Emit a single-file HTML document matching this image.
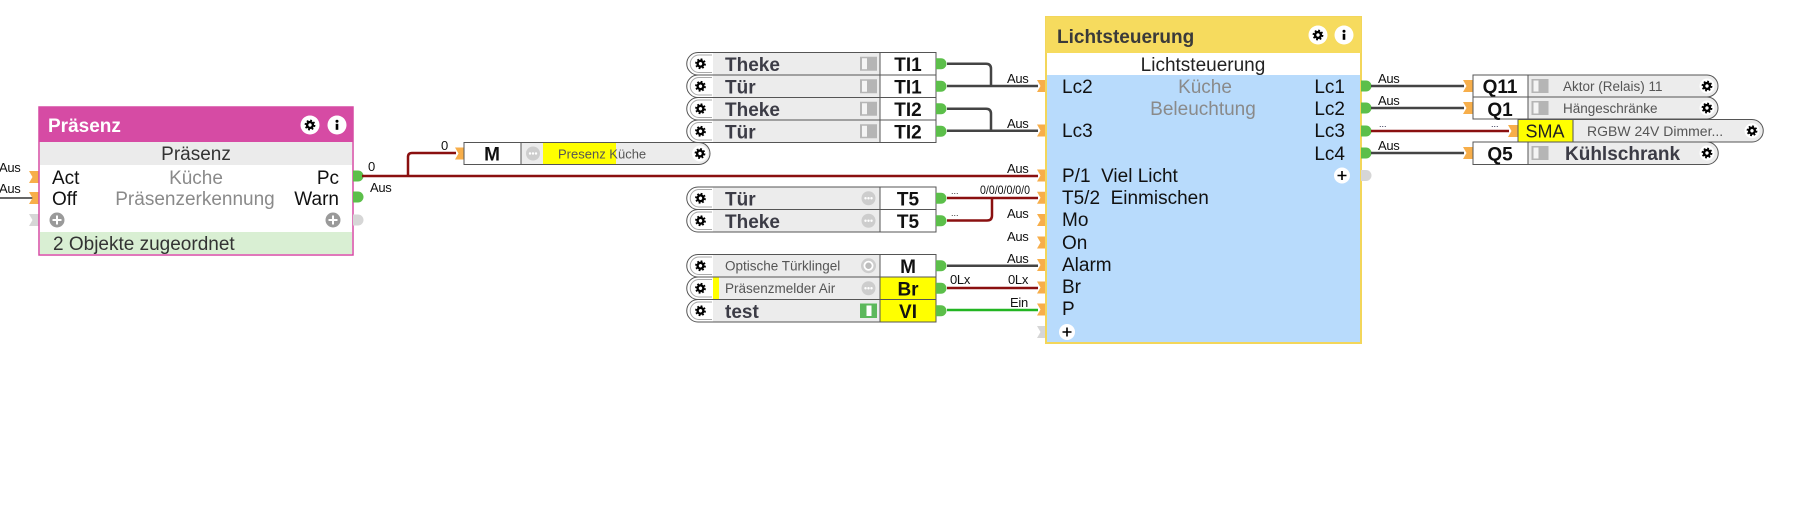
<!DOCTYPE html>
<html><head><meta charset="utf-8">
<style>
html,body{margin:0;padding:0;background:#fff;}
svg{display:block;font-family:"Liberation Sans",Arial,sans-serif;}
.b{font-weight:bold;font-size:19px;fill:#3c3c46;}
.bc{font-weight:bold;font-size:19px;fill:#111;text-anchor:middle;}
.r{font-size:19px;fill:#111;}
.g{font-size:19px;fill:#8a8a8a;text-anchor:middle;}
.s{font-size:13px;fill:#111;letter-spacing:-0.3px;}
.sm{font-size:13.5px;fill:#555;}
.w{fill:none;stroke-width:2.5;}
</style></head><body>
<svg width="1806" height="519" viewBox="0 0 1806 519" xmlns="http://www.w3.org/2000/svg">
<defs>
<g id="gear"><circle r="2.9" fill="none" stroke="#000" stroke-width="2.4"/><circle r="4.3" fill="none" stroke="#000" stroke-width="2.2" stroke-dasharray="1.7 1.68"/></g>
<g id="info"><circle r="9.5" fill="#fff"/><circle cx="0" cy="-3.8" r="1.5" fill="#000"/><rect x="-1.3" y="-1.2" width="2.6" height="6" fill="#000"/></g>
<path id="pin" d="M0 -6H10V6H0L3.5 0Z"/>
<path id="pout" d="M0 -5.5H5A5.5 5.5 0 0 1 5 5.5H0Z"/>
<g id="dots"><circle r="7" fill="#cdcdcd"/><circle cx="-3" r="1.2" fill="#fff"/><circle r="1.2" fill="#fff"/><circle cx="3" r="1.2" fill="#fff"/></g>
<g id="tog"><rect x="-8.5" y="-7" width="17" height="14" fill="#b5b5b5"/><rect x="-6.5" y="-5.5" width="5" height="11" fill="#f4f4f4"/></g>
</defs>

<!-- ============ Präsenz block ============ -->
<text x="-1" y="172" class="s">Aus</text>
<text x="-1" y="193" class="s">Aus</text>
<path d="M0 198H33" stroke="#333" stroke-width="1.5"/>
<use href="#pin" x="29" y="177" fill="#f7ae4a"/>
<use href="#pin" x="29" y="198" fill="#f7ae4a"/>
<use href="#pin" x="29" y="220" fill="#d6d6d6"/>
<rect x="39" y="107" width="314" height="148" fill="#fff" stroke="#d64ba4" stroke-width="1.5"/>
<rect x="39" y="107" width="314" height="35" fill="#d64ba4"/>
<text x="48" y="132" font-size="19" font-weight="bold" fill="#fff">Präsenz</text>
<circle cx="310" cy="125" r="9.5" fill="#fff"/><use href="#gear" x="310" y="125"/>
<use href="#info" x="337" y="125"/>
<rect x="40" y="142" width="312" height="23" fill="#ebebeb"/>
<text x="196" y="160" font-size="19" fill="#333" text-anchor="middle">Präsenz</text>
<text x="52" y="184" class="r">Act</text>
<text x="196" y="184" class="g">Küche</text>
<text x="339" y="184" class="r" text-anchor="end">Pc</text>
<text x="52" y="205" class="r">Off</text>
<text x="195" y="205" class="g">Präsenzerkennung</text>
<text x="339" y="205" class="r" text-anchor="end">Warn</text>
<circle cx="57" cy="220" r="7.5" fill="#9a9a9a"/><path d="M52.5 220H61.5M57 215.5V224.5" stroke="#fff" stroke-width="2"/>
<circle cx="333" cy="220" r="7.5" fill="#9a9a9a"/><path d="M328.5 220H337.5M333 215.5V224.5" stroke="#fff" stroke-width="2"/>
<rect x="40" y="232" width="312" height="22" fill="#d9efd3"/>
<text x="53" y="250" font-size="19" fill="#333">2 Objekte zugeordnet</text>
<use href="#pout" x="353" y="176" fill="#5cbf4a"/>
<use href="#pout" x="353" y="197" fill="#5cbf4a"/>
<use href="#pout" x="353" y="220" fill="#d6d6d6"/>
<text x="368" y="171" class="s">0</text>
<text x="370" y="192" class="s">Aus</text>

<!-- red wire from Pc -->
<path class="w" stroke="#8a1010" d="M362 176H1038"/>
<path class="w" stroke="#8a1010" d="M408 176V157Q408 153 412 153H456"/>
<text x="441" y="150" class="s">0</text>

<!-- ============ M box ============ -->
<use href="#pin" x="455" y="153.5" fill="#f7ae4a"/>
<path d="M464 142.5H699A11 11 0 0 1 699 164.5H464Z" fill="#ececec" stroke="#555"/>
<rect x="464" y="142.5" width="57" height="22" fill="#fff" stroke="#555"/>
<text x="492" y="160.5" class="bc" fill="#333">M</text>
<use href="#dots" x="533" y="153.5"/>
<rect x="543" y="143" width="73" height="21" fill="#ffff00"/>
<text x="558" y="158.5" font-size="13" fill="#555">Presenz Küche</text>
<circle cx="700" cy="153.5" r="8" fill="#fff"/><use href="#gear" x="700" y="153.5"/>

<!-- ============ left blocks TI ============ -->
<g>
<path d="M880 52.5H698A11.25 11.25 0 0 0 698 75H880Z" fill="#fff"/>
<rect x="713" y="52.5" width="167" height="22.5" fill="#ececec"/>
<rect x="880" y="52.5" width="56" height="22.5" fill="#fff"/>
<path d="M936 52.5H698A11.25 11.25 0 0 0 698 75H936Z M880 52.5V75" fill="none" stroke="#555"/>
<path d="M712 55H699A8.75 8.75 0 0 0 699 72.5H712" fill="none" stroke="#aaa"/>
<use href="#gear" x="700.5" y="63.75"/>
<text x="725" y="71" class="b">Theke</text>
<use href="#tog" x="868.5" y="63.75"/>
<text x="908" y="71" class="bc">TI1</text>
<use href="#pout" x="936" y="63.75" fill="#5cbf4a"/>
</g>
<g>
<path d="M880 75H698A11.25 11.25 0 0 0 698 97.5H880Z" fill="#fff"/>
<rect x="713" y="75" width="167" height="22.5" fill="#ececec"/>
<rect x="880" y="75" width="56" height="22.5" fill="#fff"/>
<path d="M936 75H698A11.25 11.25 0 0 0 698 97.5H936Z M880 75V97.5" fill="none" stroke="#555"/>
<path d="M712 77.5H699A8.75 8.75 0 0 0 699 95H712" fill="none" stroke="#aaa"/>
<use href="#gear" x="700.5" y="86.25"/>
<text x="725" y="93.5" class="b">Tür</text>
<use href="#tog" x="868.5" y="86.25"/>
<text x="908" y="93.5" class="bc">TI1</text>
<use href="#pout" x="936" y="86.25" fill="#5cbf4a"/>
</g>
<g>
<path d="M880 97.5H698A11.25 11.25 0 0 0 698 120H880Z" fill="#fff"/>
<rect x="713" y="97.5" width="167" height="22.5" fill="#ececec"/>
<rect x="880" y="97.5" width="56" height="22.5" fill="#fff"/>
<path d="M936 97.5H698A11.25 11.25 0 0 0 698 120H936Z M880 97.5V120" fill="none" stroke="#555"/>
<path d="M712 100H699A8.75 8.75 0 0 0 699 117.5H712" fill="none" stroke="#aaa"/>
<use href="#gear" x="700.5" y="108.75"/>
<text x="725" y="116" class="b">Theke</text>
<use href="#tog" x="868.5" y="108.75"/>
<text x="908" y="116" class="bc">TI2</text>
<use href="#pout" x="936" y="108.75" fill="#5cbf4a"/>
</g>
<g>
<path d="M880 120H698A11.25 11.25 0 0 0 698 142.5H880Z" fill="#fff"/>
<rect x="713" y="120" width="167" height="22.5" fill="#ececec"/>
<rect x="880" y="120" width="56" height="22.5" fill="#fff"/>
<path d="M936 120H698A11.25 11.25 0 0 0 698 142.5H936Z M880 120V142.5" fill="none" stroke="#555"/>
<path d="M712 122.5H699A8.75 8.75 0 0 0 699 140H712" fill="none" stroke="#aaa"/>
<use href="#gear" x="700.5" y="131.25"/>
<text x="725" y="138.5" class="b">Tür</text>
<use href="#tog" x="868.5" y="131.25"/>
<text x="908" y="138.5" class="bc">TI2</text>
<use href="#pout" x="936" y="131.25" fill="#5cbf4a"/>
</g>

<!-- TI wires -->
<path class="w" stroke="#444" d="M947 63.75H986Q991 63.75 991 68.75V86"/>
<path class="w" stroke="#444" d="M947 86H1038"/>
<path class="w" stroke="#444" d="M947 108.75H986Q991 108.75 991 113.75V130.75"/>
<path class="w" stroke="#444" d="M947 130.75H1038"/>

<!-- ============ T5 blocks ============ -->
<g>
<path d="M880 187H698A11.25 11.25 0 0 0 698 209.5H880Z" fill="#fff"/>
<rect x="713" y="187" width="167" height="22.5" fill="#ececec"/>
<rect x="880" y="187" width="56" height="22.5" fill="#fff"/>
<path d="M936 187H698A11.25 11.25 0 0 0 698 209.5H936Z M880 187V209.5" fill="none" stroke="#555"/>
<path d="M712 189.5H699A8.75 8.75 0 0 0 699 207H712" fill="none" stroke="#aaa"/>
<use href="#gear" x="700.5" y="198.25"/>
<text x="725" y="205.5" class="b">Tür</text>
<use href="#dots" x="868.5" y="198.25"/>
<text x="908" y="205.5" class="bc">T5</text>
<use href="#pout" x="936" y="198.25" fill="#5cbf4a"/>
</g>
<g>
<path d="M880 209.5H698A11.25 11.25 0 0 0 698 232H880Z" fill="#fff"/>
<rect x="713" y="209.5" width="167" height="22.5" fill="#ececec"/>
<rect x="880" y="209.5" width="56" height="22.5" fill="#fff"/>
<path d="M936 209.5H698A11.25 11.25 0 0 0 698 232H936Z M880 209.5V232" fill="none" stroke="#555"/>
<path d="M712 212H699A8.75 8.75 0 0 0 699 229.5H712" fill="none" stroke="#aaa"/>
<use href="#gear" x="700.5" y="220.75"/>
<text x="725" y="228" class="b">Theke</text>
<use href="#dots" x="868.5" y="220.75"/>
<text x="908" y="228" class="bc">T5</text>
<use href="#pout" x="936" y="220.75" fill="#5cbf4a"/>
</g>
<path class="w" stroke="#8a1010" d="M947 198H1038"/>
<path class="w" stroke="#8a1010" d="M947 220.5H987Q992 220.5 992 215.5V198"/>
<text x="951" y="194" font-size="9" fill="#333">...</text>
<text x="951" y="216" font-size="9" fill="#333">...</text>

<!-- ============ lower blocks ============ -->
<g>
<path d="M880 254.5H698A11.25 11.25 0 0 0 698 277H880Z" fill="#fff"/>
<rect x="713" y="254.5" width="167" height="22.5" fill="#ececec"/>
<rect x="880" y="254.5" width="56" height="22.5" fill="#fff"/>
<path d="M936 254.5H698A11.25 11.25 0 0 0 698 277H936Z M880 254.5V277" fill="none" stroke="#555"/>
<path d="M712 257H699A8.75 8.75 0 0 0 699 274.5H712" fill="none" stroke="#aaa"/>
<use href="#gear" x="700.5" y="265.75"/>
<text x="725" y="270.5" class="sm">Optische Türklingel</text>
<circle cx="868.5" cy="265.75" r="7.5" fill="#cdcdcd"/><circle cx="868.5" cy="265.75" r="5" fill="#fff"/><circle cx="868.5" cy="265.75" r="3.2" fill="#bdbdbd"/>
<text x="908" y="273" class="bc">M</text>
<use href="#pout" x="936" y="265.75" fill="#5cbf4a"/>
</g>
<g>
<path d="M880 277H698A11.25 11.25 0 0 0 698 299.5H880Z" fill="#fff"/>
<rect x="713" y="277" width="167" height="22.5" fill="#ececec"/>
<rect x="713" y="277" width="6" height="22.5" fill="#ffff00"/>
<rect x="880" y="277" width="56" height="22.5" fill="#ffff00"/>
<path d="M936 277H698A11.25 11.25 0 0 0 698 299.5H936Z M880 277V299.5" fill="none" stroke="#555"/>
<path d="M712 279.5H699A8.75 8.75 0 0 0 699 297H712" fill="none" stroke="#aaa"/>
<use href="#gear" x="700.5" y="288.25"/>
<text x="725" y="293" class="sm">Präsenzmelder Air</text>
<use href="#dots" x="868.5" y="288.25"/>
<text x="908" y="295.5" class="bc">Br</text>
<use href="#pout" x="936" y="288.25" fill="#5cbf4a"/>
</g>
<g>
<path d="M880 299.5H698A11.25 11.25 0 0 0 698 322H880Z" fill="#fff"/>
<rect x="713" y="299.5" width="167" height="22.5" fill="#ececec"/>
<rect x="880" y="299.5" width="56" height="22.5" fill="#ffff00"/>
<path d="M936 299.5H698A11.25 11.25 0 0 0 698 322H936Z M880 299.5V322" fill="none" stroke="#555"/>
<path d="M712 302H699A8.75 8.75 0 0 0 699 319.5H712" fill="none" stroke="#aaa"/>
<use href="#gear" x="700.5" y="310.75"/>
<text x="725" y="318" class="b">test</text>
<rect x="860" y="303.5" width="17" height="14.5" fill="#5cb85c"/><rect x="866.5" y="305.5" width="5" height="10.5" fill="#fff"/>
<text x="908" y="318" class="bc">VI</text>
<use href="#pout" x="936" y="310.75" fill="#5cbf4a"/>
</g>
<path class="w" stroke="#444" d="M947 265.75H1038"/>
<path class="w" stroke="#8a1010" d="M947 288H1038"/>
<path class="w" stroke="#22b522" d="M947 310H1038"/>

<!-- input labels near Lichtsteuerung -->
<text x="1007" y="83" class="s">Aus</text>
<text x="1007" y="128" class="s">Aus</text>
<text x="1007" y="173" class="s">Aus</text>
<text x="980" y="194" font-size="12" fill="#111" textLength="50" lengthAdjust="spacingAndGlyphs">0/0/0/0/0/0</text>
<text x="1007" y="218" class="s">Aus</text>
<text x="1007" y="241" class="s">Aus</text>
<text x="1007" y="263" class="s">Aus</text>
<text x="950" y="284" class="s">0Lx</text>
<text x="1008" y="284" class="s">0Lx</text>
<text x="1010" y="307" class="s">Ein</text>

<!-- ============ Lichtsteuerung ============ -->
<use href="#pin" x="1037" y="86" fill="#f7ae4a"/>
<use href="#pin" x="1037" y="130.5" fill="#f7ae4a"/>
<use href="#pin" x="1037" y="175.5" fill="#f7ae4a"/>
<use href="#pin" x="1037" y="197.75" fill="#f7ae4a"/>
<use href="#pin" x="1037" y="220" fill="#f7ae4a"/>
<use href="#pin" x="1037" y="242.5" fill="#f7ae4a"/>
<use href="#pin" x="1037" y="265" fill="#f7ae4a"/>
<use href="#pin" x="1037" y="287.5" fill="#f7ae4a"/>
<use href="#pin" x="1037" y="309.5" fill="#f7ae4a"/>
<use href="#pin" x="1037" y="332" fill="#d6d6d6"/>
<rect x="1046" y="17" width="315" height="326" fill="#b8dbfc" stroke="#f3d65a" stroke-width="2"/>
<rect x="1046" y="17" width="315" height="36" fill="#f6db5e"/>
<rect x="1047" y="53" width="313" height="22" fill="#fff"/>
<text x="1057" y="43" font-size="19" font-weight="bold" fill="#3a3a3a">Lichtsteuerung</text>
<circle cx="1318" cy="35" r="9.5" fill="#fff"/><use href="#gear" x="1318" y="35"/>
<use href="#info" x="1344" y="35"/>
<text x="1203" y="71" font-size="19" fill="#222" text-anchor="middle">Lichtsteuerung</text>
<text x="1062" y="93" class="r">Lc2</text>
<text x="1205" y="93" class="g">Küche</text>
<text x="1345" y="93" class="r" text-anchor="end">Lc1</text>
<text x="1203" y="115" class="g">Beleuchtung</text>
<text x="1345" y="115" class="r" text-anchor="end">Lc2</text>
<text x="1062" y="137" class="r">Lc3</text>
<text x="1345" y="137" class="r" text-anchor="end">Lc3</text>
<text x="1345" y="160" class="r" text-anchor="end">Lc4</text>
<text x="1062" y="182" class="r" xml:space="preserve">P/1  Viel Licht</text>
<text x="1062" y="204" class="r" xml:space="preserve">T5/2  Einmischen</text>
<text x="1062" y="226" class="r">Mo</text>
<text x="1062" y="249" class="r">On</text>
<text x="1062" y="271" class="r">Alarm</text>
<text x="1062" y="293" class="r">Br</text>
<text x="1062" y="315" class="r">P</text>
<circle cx="1342" cy="175.5" r="8" fill="#fff"/><path d="M1337.5 175.5H1346.5M1342 171V180" stroke="#000" stroke-width="1.6"/>
<circle cx="1067" cy="332" r="8" fill="#fff"/><path d="M1062.5 332H1071.5M1067 327.5V336.5" stroke="#000" stroke-width="1.6"/>
<use href="#pout" x="1361" y="86" fill="#5cbf4a"/>
<use href="#pout" x="1361" y="108" fill="#5cbf4a"/>
<use href="#pout" x="1361" y="131" fill="#5cbf4a"/>
<use href="#pout" x="1361" y="153" fill="#5cbf4a"/>
<use href="#pout" x="1361" y="175.5" fill="#d6d6d6"/>

<!-- output wires -->
<path class="w" stroke="#444" d="M1371 86H1464"/>
<path class="w" stroke="#444" d="M1371 108H1464"/>
<path class="w" stroke="#8a1010" d="M1371 131H1509"/>
<path class="w" stroke="#444" d="M1371 153H1464"/>
<text x="1378" y="83" class="s">Aus</text>
<text x="1378" y="105" class="s">Aus</text>
<text x="1379" y="127" font-size="9" fill="#224">...</text>
<text x="1378" y="150" class="s">Aus</text>
<text x="1491" y="127" font-size="9" fill="#224">...</text>

<!-- ============ right blocks ============ -->
<use href="#pin" x="1463" y="86" fill="#f7ae4a"/>
<path d="M1473 75H1707A11 11 0 0 1 1707 97H1473Z" fill="#ececec" stroke="#555"/>
<rect x="1473" y="75" width="55" height="22" fill="#fff" stroke="#555"/>
<text x="1500" y="93" class="bc" fill="#333">Q11</text>
<use href="#tog" x="1540" y="86"/>
<text x="1563" y="91" class="sm">Aktor (Relais) 11</text>
<circle cx="1707" cy="86" r="7.5" fill="#fff"/><use href="#gear" x="1707" y="86"/>

<use href="#pin" x="1463" y="108" fill="#f7ae4a"/>
<path d="M1473 97H1707A11 11 0 0 1 1707 119H1473Z" fill="#ececec" stroke="#555"/>
<rect x="1473" y="97" width="55" height="22" fill="#fff" stroke="#555"/>
<text x="1500" y="116" class="bc">Q1</text>
<use href="#tog" x="1540" y="108"/>
<text x="1563" y="113" class="sm">Hängeschränke</text>
<circle cx="1707" cy="108" r="7.5" fill="#fff"/><use href="#gear" x="1707" y="108"/>

<use href="#pin" x="1508" y="131" fill="#f7ae4a"/>
<path d="M1518 119.5H1752A11.25 11.25 0 0 1 1752 142H1518Z" fill="#ececec" stroke="#555"/>
<rect x="1518" y="119.5" width="55" height="22.5" fill="#ffff00" stroke="#555"/>
<text x="1545" y="137.5" font-size="18" fill="#222" text-anchor="middle">SMA</text>
<text x="1587" y="136" font-size="14" fill="#555">RGBW 24V Dimmer...</text>
<circle cx="1752" cy="130.75" r="7.5" fill="#fff"/><use href="#gear" x="1752" y="130.75"/>

<use href="#pin" x="1463" y="153" fill="#f7ae4a"/>
<path d="M1473 142H1707A11 11 0 0 1 1707 164.5H1473Z" fill="#ececec" stroke="#555"/>
<rect x="1473" y="142" width="55" height="22.5" fill="#fff" stroke="#555"/>
<text x="1500" y="160.5" class="bc">Q5</text>
<use href="#tog" x="1540" y="153"/>
<text x="1565" y="160" class="b">Kühlschrank</text>
<circle cx="1707" cy="153" r="7.5" fill="#fff"/><use href="#gear" x="1707" y="153"/>
</svg>
</body></html>
